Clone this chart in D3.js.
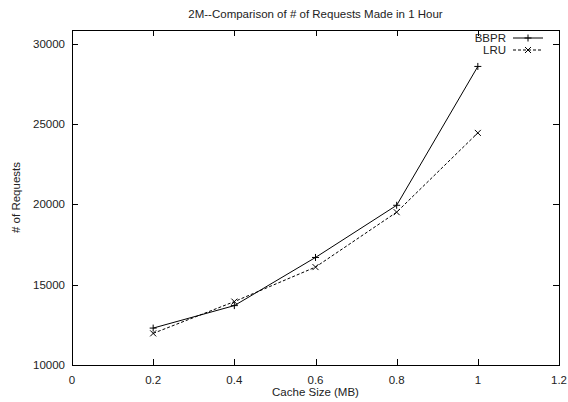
<!DOCTYPE html>
<html><head><meta charset="utf-8">
<script src="https://cdn.jsdelivr.net/npm/d3@7/dist/d3.min.js"></script>
<style>body{margin:0;background:#fff}svg{display:block}text{font-family:"Liberation Sans",Arial,sans-serif;fill:#222}</style>
</head><body>
<script>
const cacheSizes = [0.2, 0.4, 0.6, 0.8, 1.0];
const bbpr = [12300, 13700, 16700, 19950, 28600];
const lru = [11970, 13950, 16100, 19520, 24460];
const xTicks = [0, 0.2, 0.4, 0.6, 0.8, 1, 1.2];
const yTicks = [10000, 15000, 20000, 25000, 30000];
const seriesNames = ["BBPR", "LRU"];

const W = 568, H = 402;
const m = {l:72, r:9, t:30, b:37};
const svg = d3.select("body").append("svg").attr("width", W).attr("height", H);
const x = d3.scaleLinear().domain([0, 1.2]).range([m.l, W - m.r]);
const y = d3.scaleLinear().domain([10000, 30870]).range([H - m.b, m.t]);

svg.append("rect").attr("x", m.l + 0.5).attr("y", m.t + 0.5).attr("width", W - m.r - m.l).attr("height", H - m.b - m.t)
  .attr("fill", "none").attr("stroke", "#000").attr("stroke-width", 1);

const tl = 6;
const g = svg.append("g");
xTicks.forEach(v => {
  const px = Math.round(x(v)) + 0.5;
  if (v > 0 && v < 1.2) {
    g.append("line").attr("x1", px).attr("x2", px).attr("y1", H - m.b).attr("y2", H - m.b - tl).attr("stroke", "#000");
    g.append("line").attr("x1", px).attr("x2", px).attr("y1", m.t).attr("y2", m.t + tl).attr("stroke", "#000");
  }
  g.append("text").attr("x", x(v)).attr("y", H - m.b + 19).attr("text-anchor", "middle").attr("font-size", 11.5).text(d3.format("")(v));
});
yTicks.forEach(v => {
  const py = Math.round(y(v)) + 0.5;
  if (v > 10000) {
    g.append("line").attr("x1", m.l).attr("x2", m.l + tl).attr("y1", py).attr("y2", py).attr("stroke", "#000");
    g.append("line").attr("x1", W - m.r).attr("x2", W - m.r - tl).attr("y1", py).attr("y2", py).attr("stroke", "#000");
  }
  g.append("text").attr("x", m.l - 7).attr("y", y(v) + 4).attr("text-anchor", "end").attr("font-size", 11.5).text(v);
});

svg.append("text").attr("x", (m.l + W - m.r) / 2).attr("y", 18).attr("text-anchor", "middle").attr("font-size", 11.5)
  .text("2M--Comparison of # of Requests Made in 1 Hour");
svg.append("text").attr("x", (m.l + W - m.r) / 2).attr("y", 396).attr("text-anchor", "middle").attr("font-size", 11.5)
  .text("Cache Size (MB)");
svg.append("text").attr("transform", `translate(20,${(m.t + H - m.b) / 2}) rotate(-90)`).attr("text-anchor", "middle").attr("font-size", 11.5)
  .text("# of Requests");

const line = d3.line().x(d => x(d[0])).y(d => y(d[1]));
const dB = cacheSizes.map((c, i) => [c, bbpr[i]]);
const dL = cacheSizes.map((c, i) => [c, lru[i]]);
svg.append("path").attr("d", line(dB)).attr("fill", "none").attr("stroke", "#000").attr("stroke-width", 1);
svg.append("path").attr("d", line(dL)).attr("fill", "none").attr("stroke", "#000").attr("stroke-width", 1).attr("stroke-dasharray", "3,2");

function plus(px, py, s) {
  svg.append("path").attr("d", `M${px - s},${py}H${px + s}M${px},${py - s}V${py + s}`).attr("stroke", "#000").attr("stroke-width", 1);
}
function cross(px, py, s) {
  svg.append("path").attr("d", `M${px - s},${py - s}L${px + s},${py + s}M${px - s},${py + s}L${px + s},${py - s}`).attr("stroke", "#000").attr("stroke-width", 1);
}
dB.forEach(d => plus(x(d[0]), y(d[1]), 3.5));
dL.forEach(d => cross(x(d[0]), y(d[1]), 3));

const lx1 = 513, lx2 = 543, ly = [38, 50];
seriesNames.forEach((n, i) => {
  svg.append("text").attr("x", lx1 - 7).attr("y", ly[i] + 4).attr("text-anchor", "end").attr("font-size", 11.5).text(n);
  const ln = svg.append("line").attr("x1", lx1).attr("x2", lx2).attr("y1", ly[i]).attr("y2", ly[i]).attr("stroke", "#000");
  if (i === 1) ln.attr("stroke-dasharray", "3,2");
  if (i === 0) plus((lx1 + lx2) / 2, ly[i], 3.5); else cross((lx1 + lx2) / 2, ly[i], 3);
});
</script>
</body></html>
